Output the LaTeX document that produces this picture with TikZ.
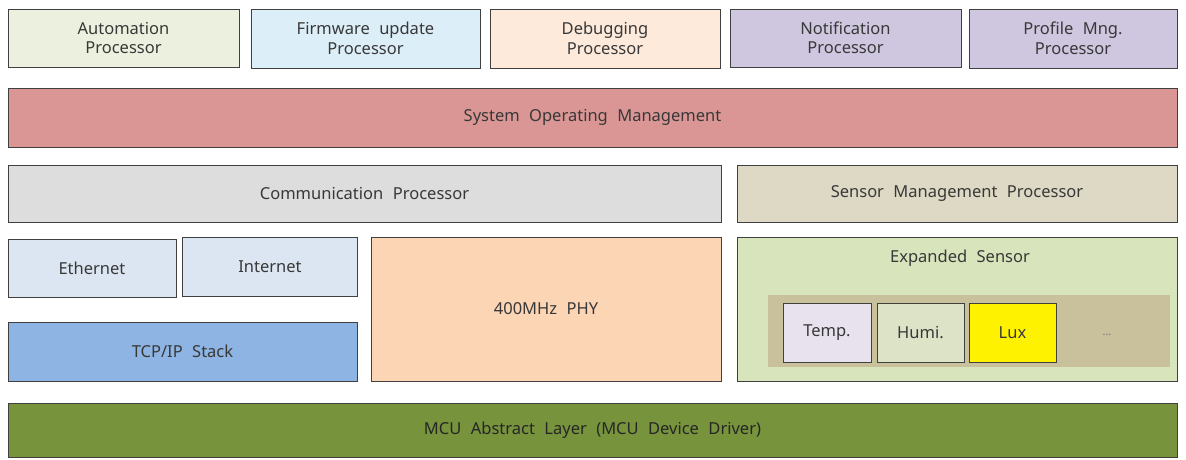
\documentclass[tikz,border=0pt]{standalone}
\usepackage{fontspec}
\setmainfont{Noto Sans}[WordSpace=2.2]
\begin{document}
\begin{tikzpicture}[x=1pt,y=-1pt,
  blk/.style={draw=black!75,line width=1pt,text=black!78,font=\fontsize{16.5}{19.5}\selectfont,align=center,inner sep=0pt},
  flat/.style={inner sep=0pt}]
\definecolor{cAuto}{HTML}{EBF1DE}
\definecolor{cFirm}{HTML}{DCEEF8}
\definecolor{cDebug}{HTML}{FDEADA}
\definecolor{cNotif}{HTML}{CFC6DF}
\definecolor{cSys}{HTML}{DA9694}
\definecolor{cComm}{HTML}{DDDDDD}
\definecolor{cSensM}{HTML}{DDD9C4}
\definecolor{cNet}{HTML}{DCE6F2}
\definecolor{cTcp}{HTML}{8DB4E2}
\definecolor{cPhy}{HTML}{FCD5B5}
\definecolor{cExp}{HTML}{D8E4BC}
\definecolor{cBand}{HTML}{C9C09C}
\definecolor{cTemp}{HTML}{E8E2EE}
\definecolor{cHumi}{HTML}{DCE3C6}
\definecolor{cMcu}{HTML}{77933C}
\useasboundingbox[fill=white] (0,0) rectangle (1186,459);
% application processors
\node[blk,fill=cAuto,minimum width=231,minimum height=58] (auto) at (123.5,38) {Automation\\Processor};
\node[blk,fill=cFirm,minimum width=229,minimum height=59] (firm) at (365.5,38.5) {Firmware update\\Processor};
\node[blk,fill=cDebug,minimum width=230,minimum height=59] (debug) at (605,38.5) {Debugging\\Processor};
\node[blk,fill=cNotif,minimum width=231,minimum height=58] (notif) at (845.5,38) {Notification\\Processor};
\node[blk,fill=cNotif,minimum width=208,minimum height=59] (prof) at (1073,38.5) {Profile Mng.\\Processor};
% system management
\node[blk,fill=cSys,minimum width=1169,minimum height=59] (sys) at (592.5,117.5) {System Operating Management};
% communication and sensor processors
\node[blk,fill=cComm,minimum width=713,minimum height=57] (comm) at (364.5,193.5) {Communication Processor};
\node[blk,fill=cSensM,minimum width=440,minimum height=57] (sensm) at (957,193.5) {Sensor Management Processor};
% network stack
\node[blk,fill=cNet,minimum width=168,minimum height=58] (eth) at (92,268) {Ethernet};
\node[blk,fill=cNet,minimum width=175,minimum height=59] (inet) at (270,266.5) {Internet};
\node[blk,fill=cTcp,minimum width=349,minimum height=59] (tcp) at (182.5,351.5) {TCP/IP Stack};
\node[blk,fill=cPhy,minimum width=350,minimum height=144] (phy) at (546,309) {400MHz PHY};
% expanded sensor group
\node[blk,fill=cExp,minimum width=440,minimum height=144] (exp) at (957,309) {};
\node[text=black!78,font=\fontsize{16.5}{19.5}\selectfont] (explbl) at (960,258) {Expanded Sensor};
\node[flat,fill=cBand,minimum width=402,minimum height=72] (band) at (969,331) {};
\node[blk,fill=cTemp,minimum width=88,minimum height=59] (temp) at (827,332.5) {Temp.};
\node[blk,fill=cHumi,minimum width=87,minimum height=59] (humi) at (920.5,332.5) {Humi.};
\node[blk,fill=yellow,minimum width=87,minimum height=59] (lux) at (1012.5,332.5) {Lux};
\node[text=black!55,font=\fontsize{11}{13}\selectfont] (more) at (1107,335) {...};
% hardware abstraction
\node[blk,fill=cMcu,text=black!85,minimum width=1169,minimum height=54] (mcu) at (592.5,430) {MCU Abstract Layer (MCU Device Driver)};
\end{tikzpicture}
\end{document}
